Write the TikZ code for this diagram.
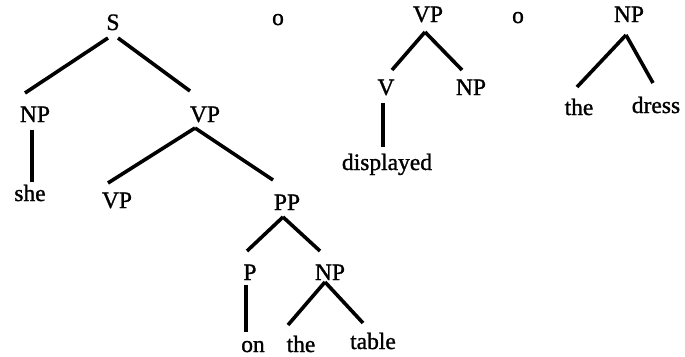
\documentclass[tikz,border=0pt]{standalone}
\usepackage{fontspec}
\setmainfont{Liberation Serif}
\newfontfamily\scanfont[FakeBold=1.2]{Liberation Serif}
\begin{document}
\begin{tikzpicture}[x=1pt,y=-1pt,
  lbl/.style={anchor=base,inner sep=0pt,font=\scanfont\fontsize{23.5}{28}\selectfont},
  br/.style={line width=3.6pt}]
\useasboundingbox (0,0) rectangle (685,356);
% nodes
\node[lbl] (S) at (113,30) {S};
\node[lbl] (o1) at (278,25) {o};
\node[lbl] (VPa) at (428,22) {VP};
\node[lbl] (o2) at (518,23) {o};
\node[lbl] (NPb) at (629,22) {NP};
\node[lbl] (NP1) at (35,122) {NP};
\node[lbl] (VP1) at (205,122) {VP};
\node[lbl] (she) at (30,201) {she};
\node[lbl] (VP2) at (117,208) {VP};
\node[lbl] (V) at (386,95) {V};
\node[lbl] (NPc) at (471,95) {NP};
\node[lbl] (disp) at (387,170) {displayed};
\node[lbl] (the1) at (579,115) {the};
\node[lbl] (dress) at (656,113) {dress};
\node[lbl] (PP) at (287,210) {PP};
\node[lbl] (P) at (250,280) {P};
\node[lbl] (NP2) at (330,280) {NP};
\node[lbl] (on) at (253,352) {on};
\node[lbl] (the2) at (301,352) {the};
\node[lbl] (table) at (373,349) {table};
% branches
\draw[br] ([shift={(-5,8)}]S.base) -- ([shift={(-10,-29)}]NP1.base);
\draw[br] ([shift={(5,8)}]S.base) -- ([shift={(-15,-31)}]VP1.base);
\draw[br] ([shift={(-3,8)}]NP1.base) -- ([shift={(2,-19)}]she.base);
\draw[br] ([shift={(-10,6)}]VP1.base) -- ([shift={(-9,-25)}]VP2.base);
\draw[br] ([shift={(-10,6)}]VP1.base) -- ([shift={(-14,-30)}]PP.base);
\draw[br] ([shift={(-4,7)}]PP.base) -- ([shift={(-3,-29)}]P.base);
\draw[br] ([shift={(-4,7)}]PP.base) -- ([shift={(-10,-29)}]NP2.base);
\draw[br] ([shift={(-4,5)}]P.base) -- ([shift={(-7,-20)}]on.base);
\draw[br] ([shift={(-5,2)}]NP2.base) -- ([shift={(-13,-27)}]the2.base);
\draw[br] ([shift={(-5,2)}]NP2.base) -- ([shift={(-10,-26)}]table.base);
\draw[br] ([shift={(-3,10)}]VPa.base) -- ([shift={(6,-25)}]V.base);
\draw[br] ([shift={(-3,10)}]VPa.base) -- ([shift={(-9,-25)}]NPc.base);
\draw[br] ([shift={(-3,8)}]V.base) -- ([shift={(-4,-23)}]disp.base);
\draw[br] ([shift={(-3,13)}]NPb.base) -- ([shift={(-2,-28)}]the1.base);
\draw[br] ([shift={(-3,13)}]NPb.base) -- ([shift={(-3,-30)}]dress.base);
\end{tikzpicture}
\end{document}
